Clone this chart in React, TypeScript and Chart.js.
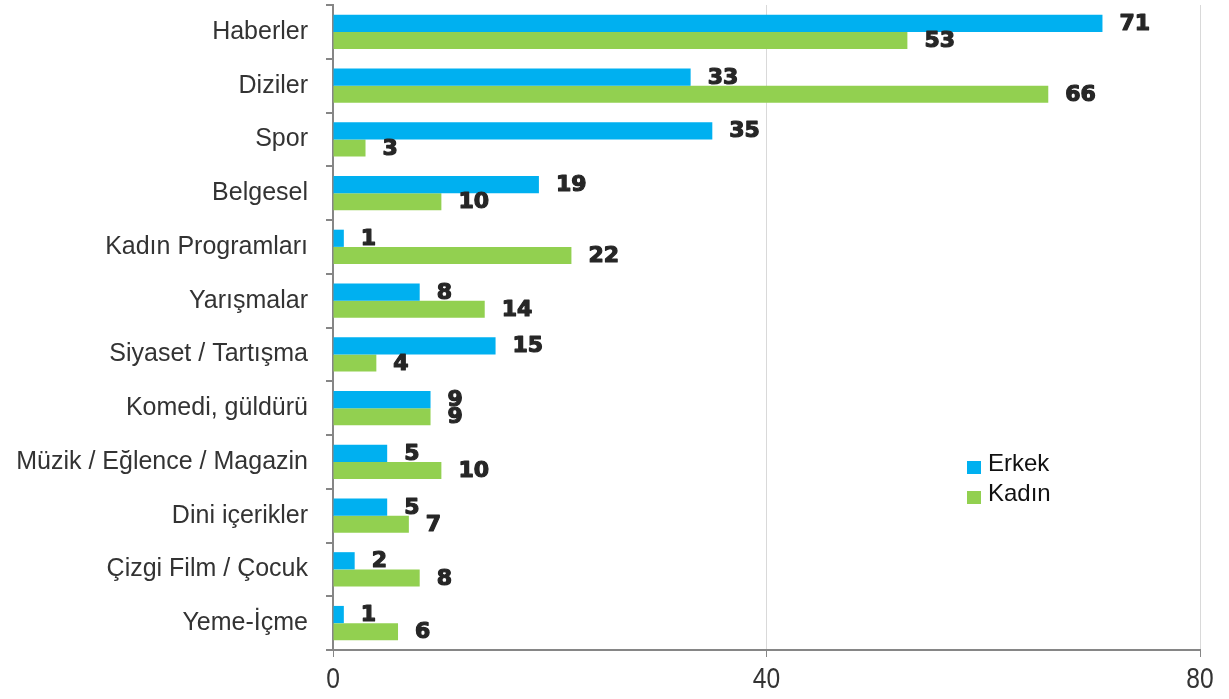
import React, { useEffect, useRef } from "react";
import { Chart, registerables } from "chart.js";

Chart.register(...registerables);

const categories = [
  "Haberler",
  "Diziler",
  "Spor",
  "Belgesel",
  "Kadın Programları",
  "Yarışmalar",
  "Siyaset / Tartışma",
  "Komedi, güldürü",
  "Müzik / Eğlence / Magazin",
  "Dini içerikler",
  "Çizgi Film / Çocuk",
  "Yeme-İçme",
];
const erkek = [71, 33, 35, 19, 1, 8, 15, 9, 5, 5, 2, 1];
const kadin = [53, 66, 3, 10, 22, 14, 4, 9, 10, 7, 8, 6];
const seriesNames = ["Erkek", "Kadın"];
const seriesColors = ["#00B0F0", "#92D050"];
const xTicks = [0, 40, 80];

const labelPlugin = {
  id: "valueLabels",
  afterDatasetsDraw(chart: any) {
    const ctx = chart.ctx;
    ctx.save();
    ctx.font = "bold 22px 'DejaVu Sans', sans-serif";
    ctx.fillStyle = "#262626";
    ctx.strokeStyle = "#262626";
    ctx.lineWidth = 1.2;
    ctx.lineJoin = "round";
    ctx.textAlign = "left";
    ctx.textBaseline = "middle";
    chart.data.datasets.forEach((ds: any, di: number) => {
      const meta = chart.getDatasetMeta(di);
      meta.data.forEach((bar: any, i: number) => {
        const t = String(ds.data[i]);
        ctx.strokeText(t, bar.x + 17, bar.y + 1);
        ctx.fillText(t, bar.x + 17, bar.y + 1);
      });
    });
    ctx.restore();
  },
};

const xLabelPlugin = {
  id: "xLabels",
  afterDraw(chart: any) {
    const ctx = chart.ctx;
    const scale = chart.scales.x;
    ctx.save();
    ctx.font = "30px 'Liberation Sans', Arial, sans-serif";
    ctx.fillStyle = "#333";
    ctx.textAlign = "center";
    ctx.textBaseline = "middle";
    xTicks.forEach((v) => {
      const x = scale.getPixelForValue(v);
      ctx.save();
      ctx.translate(x, 680);
      ctx.scale(0.82, 1);
      ctx.fillText(String(v), 0, 0);
      ctx.restore();
    });
    ctx.restore();
  },
};

const legendPlugin = {
  id: "customLegend",
  afterDraw(chart: any) {
    const ctx = chart.ctx;
    ctx.save();
    ctx.font = "24px 'Liberation Sans', Arial, sans-serif";
    ctx.textAlign = "left";
    ctx.textBaseline = "middle";
    seriesNames.forEach((name, i) => {
      const y = 464 + i * 30;
      ctx.fillStyle = seriesColors[i];
      ctx.fillRect(967, y - 3, 14, 13);
      ctx.fillStyle = "#111";
      ctx.fillText(name, 988, y);
    });
    ctx.restore();
  },
};

export default function App() {
  const ref = useRef<HTMLCanvasElement>(null);
  useEffect(() => {
    if (!ref.current) return;
    const chart = new Chart(ref.current, {
      type: "bar",
      data: {
        labels: categories,
        datasets: [
          {
            label: seriesNames[0],
            data: erkek,
            backgroundColor: seriesColors[0],
            categoryPercentage: 0.64,
            barPercentage: 1,
          },
          {
            label: seriesNames[1],
            data: kadin,
            backgroundColor: seriesColors[1],
            categoryPercentage: 0.64,
            barPercentage: 1,
          },
        ],
      },
      options: {
        indexAxis: "y",
        responsive: false,
        animation: false,
        layout: { padding: { top: 5, right: 29, left: 0, bottom: 0 } },
        plugins: { legend: { display: false }, tooltip: { enabled: false } },
        scales: {
          x: {
            min: 0,
            max: 80,
            afterBuildTicks(scale: any) {
              scale.ticks = xTicks.map((v) => ({ value: v }));
            },
            afterFit(scale: any) {
              scale.height = 49;
              scale.paddingLeft = 0;
              scale.paddingRight = 0;
            },
            grid: {
              color: "#d9d9d9",
              lineWidth: 1,
              drawTicks: true,
              tickLength: 7,
              tickColor: "#868686",
            },
            border: { color: "#868686", width: 2 },
            ticks: { display: false },
          },
          y: {
            afterFit(scale: any) {
              scale.width = 333;
              scale.paddingTop = 0;
              scale.paddingBottom = 0;
            },
            grid: {
              offset: true,
              drawOnChartArea: false,
              drawTicks: true,
              tickLength: 7,
              tickColor: "#868686",
              lineWidth: 2,
            },
            border: { color: "#868686", width: 2 },
            ticks: {
              color: "#333",
              padding: 18,
              font: { family: "'Liberation Sans', Arial, sans-serif", size: 25 },
            },
          },
        },
      },
      plugins: [labelPlugin, xLabelPlugin, legendPlugin],
    });
    return () => chart.destroy();
  }, []);
  return (
    <div style={{ position: "fixed", left: 0, top: 0, width: 1229, height: 699, background: "#fff" }}>
      <canvas ref={ref} width={1229} height={699} />
    </div>
  );
}
